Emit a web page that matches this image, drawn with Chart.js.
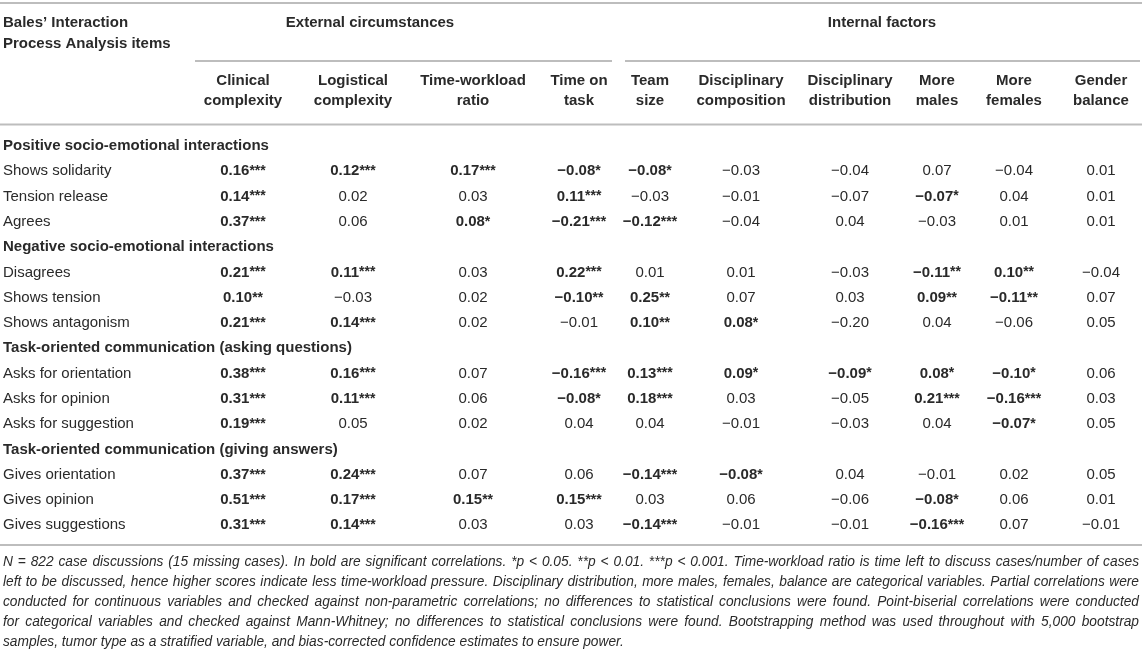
<!DOCTYPE html>
<html>
<head>
<meta charset="utf-8">
<title>Bales' Interaction Process Analysis correlations</title>
<script src="https://cdn.jsdelivr.net/npm/chart.js@4.4.1/dist/chart.umd.min.js"></script>
<style>
  html, body { margin: 0; padding: 0; background: #fff; }
  #wrap { width: 1142px; height: 654px; position: relative; }
</style>
</head>
<body>
<div id="wrap"><canvas id="ipaTable"></canvas></div>
<script>
// row groups and the items under each
const groups = [
    'Positive socio-emotional interactions',
    'Negative socio-emotional interactions',
    'Task-oriented communication (asking questions)',
    'Task-oriented communication (giving answers)'
];
const items = [
    ['Shows solidarity', 'Tension release', 'Agrees'],
    ['Disagrees', 'Shows tension', 'Shows antagonism'],
    ['Asks for orientation', 'Asks for opinion', 'Asks for suggestion'],
    ['Gives orientation', 'Gives opinion', 'Gives suggestions']
];

// column headers (two lines each) and the two header groups
const colHeads = [
    ['Clinical', 'complexity'], ['Logistical', 'complexity'], ['Time-workload', 'ratio'], ['Time on', 'task'],
    ['Team', 'size'], ['Disciplinary', 'composition'], ['Disciplinary', 'distribution'],
    ['More', 'males'], ['More', 'females'], ['Gender', 'balance']
];
const groupHeads = ['External circumstances', 'Internal factors'];

// correlations, one array per column, items in row order
const clinical      = [0.16, 0.14, 0.37, 0.21, 0.10, 0.21, 0.38, 0.31, 0.19, 0.37, 0.51, 0.31];
const logistical    = [0.12, 0.02, 0.06, 0.11, -0.03, 0.14, 0.16, 0.11, 0.05, 0.24, 0.17, 0.14];
const timeWorkload  = [0.17, 0.03, 0.08, 0.03, 0.02, 0.02, 0.07, 0.06, 0.02, 0.07, 0.15, 0.03];
const timeOnTask    = [-0.08, 0.11, -0.21, 0.22, -0.10, -0.01, -0.16, -0.08, 0.04, 0.06, 0.15, 0.03];
const teamSize      = [-0.08, -0.03, -0.12, 0.01, 0.25, 0.10, 0.13, 0.18, 0.04, -0.14, 0.03, -0.14];
const discComp      = [-0.03, -0.01, -0.04, 0.01, 0.07, 0.08, 0.09, 0.03, -0.01, -0.08, 0.06, -0.01];
const discDist      = [-0.04, -0.07, 0.04, -0.03, 0.03, -0.20, -0.09, -0.05, -0.03, 0.04, -0.06, -0.01];
const moreMales     = [0.07, -0.07, -0.03, -0.11, 0.09, 0.04, 0.08, 0.21, 0.04, -0.01, -0.08, -0.16];
const moreFemales   = [-0.04, 0.04, 0.01, 0.10, -0.11, -0.06, -0.10, -0.16, -0.07, 0.02, 0.06, 0.07];
const genderBalance = [0.01, 0.01, 0.01, -0.04, 0.07, 0.05, 0.06, 0.03, 0.05, 0.05, 0.01, -0.01];

// significance stars (0 = not significant)
const sigClinical      = [3, 3, 3, 3, 2, 3, 3, 3, 3, 3, 3, 3];
const sigLogistical    = [3, 0, 0, 3, 0, 3, 3, 3, 0, 3, 3, 3];
const sigTimeWorkload  = [3, 0, 1, 0, 0, 0, 0, 0, 0, 0, 2, 0];
const sigTimeOnTask    = [1, 3, 3, 3, 2, 0, 3, 1, 0, 0, 3, 0];
const sigTeamSize      = [1, 0, 3, 0, 2, 2, 3, 3, 0, 3, 0, 3];
const sigDiscComp      = [0, 0, 0, 0, 0, 1, 1, 0, 0, 1, 0, 0];
const sigDiscDist      = [0, 0, 0, 0, 0, 0, 1, 0, 0, 0, 0, 0];
const sigMoreMales     = [0, 1, 0, 2, 2, 0, 1, 3, 0, 0, 1, 3];
const sigMoreFemales   = [0, 0, 0, 2, 2, 0, 1, 3, 1, 0, 0, 0];
const sigGenderBalance = [0, 0, 0, 0, 0, 0, 0, 0, 0, 0, 0, 0];

const columnValues = [clinical, logistical, timeWorkload, timeOnTask, teamSize, discComp, discDist, moreMales, moreFemales, genderBalance];
const columnSig = [sigClinical, sigLogistical, sigTimeWorkload, sigTimeOnTask, sigTeamSize, sigDiscComp, sigDiscDist, sigMoreMales, sigMoreFemales, sigGenderBalance];

const footnote = [
    'N = 822 case discussions (15 missing cases). In bold are significant correlations. *p < 0.05. **p < 0.01. ***p < 0.001. Time-workload ratio is time left to discuss cases/number of cases',
    'left to be discussed, hence higher scores indicate less time-workload pressure. Disciplinary distribution, more males, females, balance are categorical variables. Partial correlations were',
    'conducted for continuous variables and checked against non-parametric correlations; no differences to statistical conclusions were found. Point-biserial correlations were conducted',
    'for categorical variables and checked against Mann-Whitney; no differences to statistical conclusions were found. Bootstrapping method was used throughout with 5,000 bootstrap',
    'samples, tumor type as a stratified variable, and bias-corrected confidence estimates to ensure power.'
];

// layout only (table units on the x scale = px of the page)
const colCenters = [243, 353, 473, 579, 650, 741, 850, 937, 1014, 1101];
const FONT = "'Liberation Sans', Arial, Helvetica, sans-serif";
const INK = '#2a2a2a';
const RULE = '#bdbdbd';

// flatten rows: group header followed by its items
const rowLabels = [];
const rowIsGroup = [];
groups.forEach((g, gi) => {
    rowLabels.push(g); rowIsGroup.push(true);
    items[gi].forEach(it => { rowLabels.push(it); rowIsGroup.push(false); });
});
const itemLabels = items.flat();

function fmt(v) {
    const s = Math.abs(v).toFixed(2);
    return v < 0 ? '\u2212' + s : s;
}

function drawValue(ctx, v, stars, cx, cy) {
    const bold = stars > 0;
    const num = fmt(v);
    const star = '*'.repeat(stars);
    const numFont = (bold ? 'bold ' : '') + '15px ' + FONT;
    const starFont = 'bold 14px ' + FONT;
    ctx.font = numFont;
    const nw = ctx.measureText(num).width;
    ctx.font = starFont;
    const sw = stars ? ctx.measureText(star).width : 0;
    const x0 = cx - (nw + sw) / 2;
    ctx.textAlign = 'left';
    ctx.font = numFont;
    ctx.fillText(num, x0, cy);
    if (stars) {
        ctx.font = starFont;
        ctx.fillText(star, x0 + nw, cy);
    }
}

function rule(ctx, x1, x2, y) {
    ctx.beginPath();
    ctx.moveTo(x1, y);
    ctx.lineTo(x2, y);
    ctx.stroke();
}

const tablePlugin = {
    id: 'tablePlugin',
    afterDatasetsDraw(chart) {
        const ctx = chart.ctx;
        const xs = chart.scales.x;
        const ys = chart.scales.y;
        const area = chart.chartArea;
        ctx.save();
        ctx.fillStyle = INK;
        ctx.textBaseline = 'middle';

        // rules
        ctx.strokeStyle = RULE;
        ctx.lineWidth = 2;
        rule(ctx, 0, chart.width, 3);
        rule(ctx, xs.getPixelForValue(195), xs.getPixelForValue(612), 61);
        rule(ctx, xs.getPixelForValue(625), xs.getPixelForValue(1140), 61);
        rule(ctx, 0, chart.width, area.top - 9);
        rule(ctx, 0, chart.width, area.bottom + 7);

        // stub heading
        ctx.textAlign = 'left';
        ctx.font = 'bold 15px ' + FONT;
        ctx.fillText('Bales\u2019 Interaction', 3, 23);
        ctx.fillText('Process Analysis items', 3, 44);

        // group headings
        ctx.textAlign = 'center';
        ctx.fillText(groupHeads[0], xs.getPixelForValue(370), 23);
        ctx.fillText(groupHeads[1], xs.getPixelForValue(882), 23);

        // column headings
        colHeads.forEach((lines, c) => {
            const x = xs.getPixelForValue(colCenters[c]);
            ctx.fillText(lines[0], x, 81);
            ctx.fillText(lines[1], x, 101);
        });

        // row labels
        ctx.textAlign = 'left';
        rowLabels.forEach((lab, i) => {
            ctx.font = (rowIsGroup[i] ? 'bold ' : '') + '15px ' + FONT;
            ctx.fillText(lab, 3, ys.getPixelForValue(i));
        });

        // cells, placed at each point the scatter layout computed
        chart.data.datasets.forEach((ds, di) => {
            const meta = chart.getDatasetMeta(di);
            meta.data.forEach((el, i) => {
                const raw = ds.data[i];
                drawValue(ctx, raw.v, raw.s, el.x, el.y);
            });
        });

        // footnote: size so the longest full line nearly fills the width, then justify
        const left = 3, right = 1139;
        ctx.font = 'italic 100px ' + FONT;
        let size = 20;
        footnote.slice(0, -1).forEach(line => {
            size = Math.min(size, 100 * (right - left - 14) / ctx.measureText(line).width);
        });
        ctx.font = 'italic ' + size.toFixed(2) + 'px ' + FONT;
        footnote.forEach((line, li) => {
            const y = area.bottom + 24 + li * 20;
            if (li === footnote.length - 1) {
                ctx.fillText(line, left, y);
                return;
            }
            const words = line.split(' ');
            const widths = words.map(w => ctx.measureText(w).width);
            const total = widths.reduce((a, b) => a + b, 0);
            const gap = (right - left - total) / (words.length - 1);
            let x = left;
            words.forEach((w, k) => {
                ctx.fillText(w, x, y);
                x += widths[k] + gap;
            });
        });

        ctx.restore();
    }
};

const datasets = colHeads.map((h, c) => ({
    label: h.join(' '),
    data: itemLabels.map((it, i) => ({ x: colCenters[c], y: it, v: columnValues[c][i], s: columnSig[c][i] })),
    pointRadius: 0,
    pointHoverRadius: 0,
    pointHitRadius: 0
}));

new Chart(document.getElementById('ipaTable'), {
    type: 'scatter',
    data: { datasets: datasets },
    options: {
        responsive: true,
        maintainAspectRatio: false,
        animation: false,
        events: [],
        layout: { padding: { top: 133.4, bottom: 116, left: 0, right: 0 } },
        plugins: {
            legend: { display: false },
            tooltip: { enabled: false }
        },
        scales: {
            x: { type: 'linear', min: 0, max: 1142, display: false },
            y: { type: 'category', labels: rowLabels, offset: true, display: false }
        }
    },
    plugins: [tablePlugin]
});
</script>
</body>
</html>
